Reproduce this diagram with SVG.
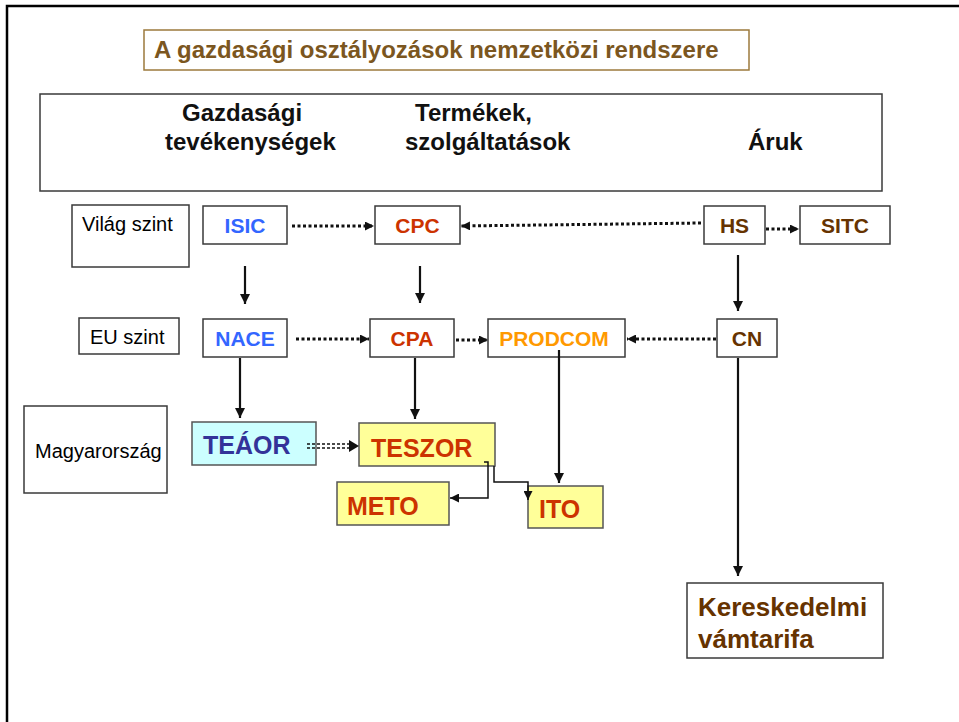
<svg xmlns="http://www.w3.org/2000/svg" width="959" height="722" viewBox="0 0 959 722">
<defs>
<style>
.box{fill:#fff;stroke:#3a3a3a;stroke-width:1.5}
.t{font-family:"Liberation Sans",Arial,sans-serif}
.b{font-weight:bold}
.lab{font-size:20px;fill:#000}
.hdr{font-size:24px;font-weight:bold;fill:#111}
.code{font-size:21px;font-weight:bold;text-anchor:middle}
.big{font-size:25px;font-weight:bold}
.dot{fill:none;stroke:#111;stroke-width:3;stroke-dasharray:3 2.5}
.sol{fill:none;stroke:#111;stroke-width:2.2}
.thin{fill:none;stroke:#111;stroke-width:1.5}
</style>
<marker id="ah" viewBox="0 0 10 10" refX="10" refY="5" markerWidth="9" markerHeight="9" markerUnits="userSpaceOnUse" orient="auto"><path d="M0,0 L10,5 L0,10 z" fill="#111"/></marker>
<marker id="ahs" viewBox="0 0 10 10" refX="10" refY="5" markerWidth="11" markerHeight="10" markerUnits="userSpaceOnUse" orient="auto"><path d="M0,0 L10,5 L0,10 z" fill="#111"/></marker>
</defs>
<rect x="0" y="0" width="959" height="722" fill="#fff"/>
<path d="M7,722 L7,6 L959,6" fill="none" stroke="#000" stroke-width="2.5"/>

<g id="title">
<rect x="144" y="30" width="605" height="40" fill="#fff" stroke="#9c7a3c" stroke-width="1.5"/>
<text class="t b" x="154" y="58" font-size="24" fill="#7b5620">A gazdasági osztályozások nemzetközi rendszere</text>
</g>

<g id="header">
<rect class="box" x="40" y="94" width="842" height="97"/>
<text class="t hdr" x="182" y="121">Gazdasági</text>
<text class="t hdr" x="165" y="150">tevékenységek</text>
<text class="t hdr" x="415" y="121">Termékek,</text>
<text class="t hdr" x="405" y="150">szolgáltatások</text>
<text class="t hdr" x="748" y="150">Áruk</text>
</g>

<g id="vilag"><rect class="box" x="72" y="205" width="117" height="62"/><text class="t lab" x="82" y="231">Világ szint</text></g>
<g id="isic"><rect class="box" x="203" y="206" width="84" height="38"/><text class="t code" x="245" y="233" fill="#3366ff">ISIC</text></g>
<g id="cpc"><rect class="box" x="375" y="206" width="85" height="38"/><text class="t code" x="417.5" y="233" fill="#cc3300">CPC</text></g>
<g id="hs"><rect class="box" x="704" y="206" width="61" height="38"/><text class="t code" x="734.5" y="233" fill="#663300">HS</text></g>
<g id="sitc"><rect class="box" x="800" y="206" width="90" height="38"/><text class="t code" x="845" y="233" fill="#663300">SITC</text></g>

<g id="eu"><rect class="box" x="79" y="318" width="100" height="36"/><text class="t lab" x="90" y="344">EU szint</text></g>
<g id="nace"><rect class="box" x="203" y="319" width="84" height="38"/><text class="t code" x="245" y="346" fill="#3366ff">NACE</text></g>
<g id="cpa"><rect class="box" x="370" y="319" width="84" height="38"/><text class="t code" x="412" y="346" fill="#cc3300">CPA</text></g>
<g id="prodcom"><rect class="box" x="488" y="319" width="137" height="38"/><text class="t code" x="554" y="346" fill="#ff9900">PRODCOM</text></g>
<g id="cn"><rect class="box" x="717" y="319" width="60" height="38"/><text class="t code" x="747" y="346" fill="#663300">CN</text></g>

<g id="magyar"><rect class="box" x="24" y="406" width="143" height="87"/><text class="t lab" x="35" y="458">Magyarország</text></g>
<g id="teaor"><rect x="192" y="422" width="124" height="43" fill="#ccffff" stroke="#555" stroke-width="1.5"/><text class="t big" x="203" y="454" fill="#333399">TEÁOR</text></g>
<g id="teszor"><rect x="359" y="423" width="136" height="43" fill="#ffff99" stroke="#555" stroke-width="1.5"/><text class="t big" x="371" y="457" fill="#cc3300">TESZOR</text></g>
<g id="meto"><rect x="337" y="482" width="112" height="43" fill="#ffff99" stroke="#555" stroke-width="1.5"/><text class="t big" x="347" y="515" fill="#cc3300">METO</text></g>
<g id="ito"><rect x="528" y="486" width="75" height="42" fill="#ffff99" stroke="#555" stroke-width="1.5"/><text class="t big" x="539" y="518" fill="#cc3300">ITO</text></g>

<g id="vamtarifa"><rect class="box" x="687" y="583" width="196" height="75"/>
<text class="t b" x="698" y="616" font-size="26" fill="#663300">Kereskedelmi</text>
<text class="t b" x="698" y="648" font-size="26" fill="#663300">vámtarifa</text></g>

<g id="connectors">
<line class="dot" x1="292" y1="226" x2="374" y2="226" marker-end="url(#ah)"/>
<line class="dot" x1="701" y1="223" x2="461" y2="226" marker-end="url(#ah)"/>
<line class="dot" x1="766" y1="229" x2="799" y2="229" marker-end="url(#ah)"/>
<line class="dot" x1="296" y1="339" x2="369" y2="339" marker-end="url(#ah)"/>
<line class="dot" x1="456" y1="340" x2="488" y2="340" marker-end="url(#ah)"/>
<line class="dot" x1="716" y1="339" x2="627" y2="339" marker-end="url(#ah)"/>
<line class="sol" x1="245" y1="266" x2="245" y2="304" marker-end="url(#ahs)"/>
<line class="sol" x1="420" y1="266" x2="420" y2="303" marker-end="url(#ahs)"/>
<line class="sol" x1="738" y1="255" x2="738" y2="311" marker-end="url(#ahs)"/>
<line class="sol" x1="240" y1="358" x2="240" y2="418" marker-end="url(#ahs)"/>
<line class="sol" x1="415" y1="358" x2="415" y2="419" marker-end="url(#ahs)"/>
<line class="sol" x1="559" y1="350" x2="559" y2="483" marker-end="url(#ahs)"/>
<line class="sol" x1="738" y1="358" x2="738" y2="576" marker-end="url(#ahs)"/>
<line x1="307" y1="444" x2="350" y2="444" stroke="#111" stroke-width="1.5" stroke-dasharray="3 2"/>
<line x1="307" y1="448" x2="350" y2="448" stroke="#111" stroke-width="1.5" stroke-dasharray="3 2"/>
<path d="M349,440 L359,446 L349,452 z" fill="#111"/>
<path class="thin" d="M484,462 L488,462 L488,498 L450,498" marker-end="url(#ah)"/>
<path class="thin" d="M494,466 L494,482 L528,482 L528,500" marker-end="url(#ah)"/>
</g>
</svg>
